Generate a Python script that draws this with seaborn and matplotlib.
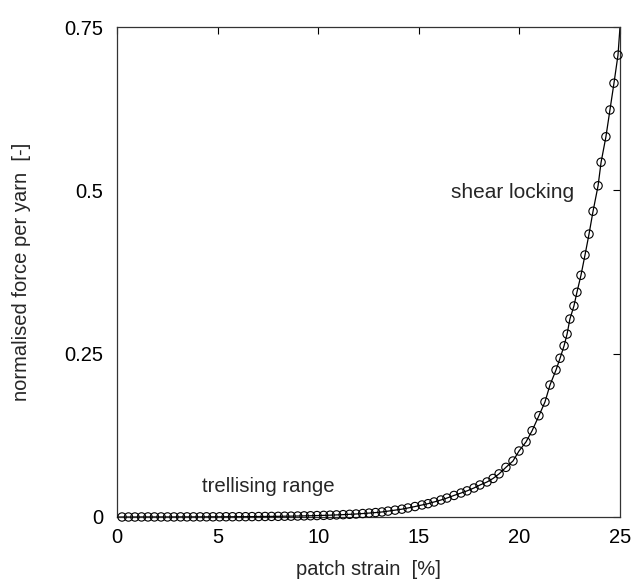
import matplotlib
matplotlib.use("Agg")
import matplotlib.pyplot as plt
import seaborn as sns
import pandas as pd

# Data
strain = [0.25, 0.57, 0.89, 1.22, 1.54, 1.86, 2.19, 2.51, 2.83, 3.16,
          3.48, 3.80, 4.13, 4.45, 4.77, 5.10, 5.42, 5.74, 6.07, 6.39,
          6.71, 7.04, 7.36, 7.68, 8.01, 8.33, 8.65, 8.98, 9.30, 9.62,
          9.94, 10.27, 10.59, 10.91, 11.24, 11.56, 11.88, 12.21, 12.53, 12.85,
          13.17, 13.47, 13.82, 14.16, 14.46, 14.81, 15.16, 15.46, 15.76, 16.10,
          16.40, 16.75, 17.10, 17.40, 17.74, 18.04, 18.39, 18.69, 18.99, 19.33,
          19.68, 19.98, 20.33, 20.63, 20.97, 21.27, 21.52, 21.82, 22.02, 22.22,
          22.37, 22.51, 22.71, 22.86, 23.06, 23.26, 23.46, 23.66, 23.91, 24.06,
          24.30, 24.50, 24.70, 24.90]
force = [0.0000, 0.0000, 0.0000, 0.0001, 0.0001, 0.0001, 0.0001, 0.0001, 0.0001, 0.0002,
         0.0002, 0.0002, 0.0002, 0.0003, 0.0003, 0.0003, 0.0004, 0.0004, 0.0005, 0.0005,
         0.0006, 0.0007, 0.0008, 0.0009, 0.0010, 0.0012, 0.0013, 0.0015, 0.0017, 0.0019,
         0.0022, 0.0025, 0.0028, 0.0032, 0.0036, 0.0041, 0.0046, 0.0053, 0.0060, 0.0068,
         0.0077, 0.0090, 0.0105, 0.0120, 0.0138, 0.0160, 0.0184, 0.0204, 0.0230, 0.0260,
         0.0290, 0.0330, 0.0367, 0.0400, 0.0444, 0.0490, 0.0536, 0.0590, 0.0660, 0.0760,
         0.0857, 0.1010, 0.1150, 0.1320, 0.1550, 0.1760, 0.2020, 0.2250, 0.2430, 0.2620,
         0.2800, 0.3030, 0.3230, 0.3440, 0.3700, 0.4010, 0.4330, 0.4680, 0.5070, 0.5430,
         0.5820, 0.6230, 0.6640, 0.7070]
# the solid curve starts at the origin and runs to the top-right corner
line_start = (0.0, 0.0)
line_end = (25.0, 0.75)

x_ticks = [0, 5, 10, 15, 20, 25]
y_ticks = [0, 0.25, 0.5, 0.75]
y_tick_labels = ["0", "0.25", "0.5", "0.75"]

markers = pd.DataFrame({"strain": strain, "force": force})
line = pd.DataFrame({"strain": [line_start[0]] + strain + [line_end[0]],
                     "force": [line_start[1]] + force + [line_end[1]]})

sns.set_style("white")
plt.rcParams["font.family"] = ["Liberation Sans", "DejaVu Sans"]

fig = plt.figure(figsize=(6.36, 5.84), dpi=100)
ax = fig.add_axes([117 / 636, 1 - 517 / 584, 503 / 636, 490 / 584])

sns.lineplot(data=line, x="strain", y="force", ax=ax, color="black",
             linewidth=0.9, sort=False, estimator=None)
sns.scatterplot(data=markers, x="strain", y="force", ax=ax, marker="o",
                s=36, facecolor="none", edgecolor="black", linewidth=0.8,
                zorder=3, clip_on=False)

ax.set_xlim(0, 25)
ax.set_ylim(0, 0.75)
ax.set_xticks(x_ticks)
ax.set_xticklabels([str(t) for t in x_ticks])
ax.set_yticks(y_ticks)
ax.set_yticklabels(y_tick_labels)
ax.tick_params(direction="in", length=5, width=0.8, top=True, right=True,
               labelsize=14.5, colors="black")
ax.tick_params(axis="y", pad=10)
ax.tick_params(axis="x", pad=8)
for s in ax.spines.values():
    s.set_color("#333333")
    s.set_linewidth(0.9)

ax.set_xlabel("patch strain  [%]", fontsize=14.5, labelpad=9)
ax.set_ylabel("normalised force per yarn  [-]", fontsize=14.5, labelpad=24)

ax.text(19.68, 0.496, "shear locking", ha="center", va="center", fontsize=15)
ax.text(7.5, 0.047, "trellising range", ha="center", va="center", fontsize=14.7)

fig.savefig("out.png", dpi=100)
